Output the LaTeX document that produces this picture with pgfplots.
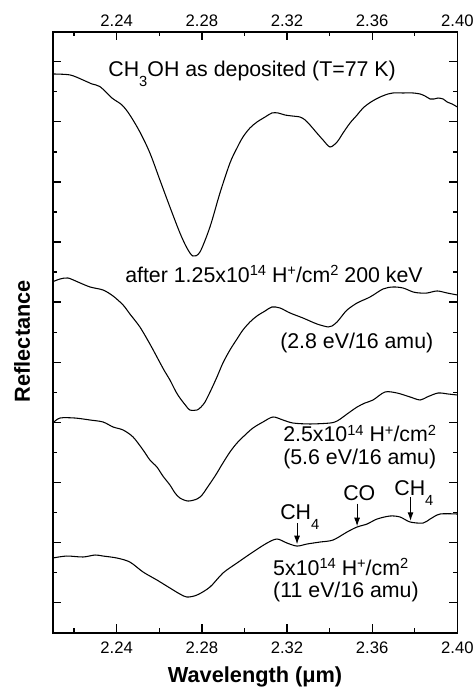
\documentclass[border=0pt]{standalone}
\usepackage{fontspec}
\setmainfont{Liberation Sans}
\usepackage{pgfplots}
\pgfplotsset{compat=1.18}
\usetikzlibrary{arrows.meta}

% Origin-style raised / lowered indices
\newcommand{\sups}[1]{\raisebox{4.9pt}{\fontsize{11}{10}\selectfont #1}}
\newcommand{\subs}[1]{\raisebox{-7.6pt}{\fontsize{11}{10}\selectfont #1}}

\begin{document}
\begin{tikzpicture}
\useasboundingbox (-39.6pt,-40.7pt) rectangle (316.7pt,474.5pt);
\begin{axis}[
  at={(0,0)}, anchor=south west,
  scale only axis, width=303.4pt, height=450.75pt,
  xmin=2.21, xmax=2.40, ymin=0, ymax=10,
  xtick={2.24,2.28,2.32,2.36,2.40},
  xticklabels={2.24,2.28,2.32,2.36,2.40},
  minor xtick={2.22,2.26,2.30,2.34,2.38},
  ytick={0.5,1.5,2.5,3.5,4.5,5.5,6.5,7.5,8.5,9.5},
  minor ytick={1,2,3,4,5,6,7,8,9},
  yticklabels={},
  tick align=inside,
  major tick length=6.4pt, minor tick length=3.4pt,
  tick style={black, line width=1pt},
  axis line style={line width=1.3pt},
  xticklabel style={font=\fontsize{12.5}{14}\selectfont, inner sep=0pt},
  xticklabel shift=7pt,
  clip=false,
]
% CH3OH as deposited
\addplot[black, line width=0.8pt, smooth, tension=0.5] coordinates {
(2.2100,9.296) (2.2181,9.280) (2.2242,9.196) (2.2284,9.130) (2.2322,9.085)
(2.2378,8.896) (2.2425,8.780) (2.2462,8.613) (2.2509,8.331) (2.2556,7.982)
(2.2603,7.532) (2.2650,7.083) (2.2697,6.651) (2.2730,6.401) (2.2758,6.268)
(2.2791,6.334) (2.2838,6.750) (2.2885,7.316) (2.2932,7.815) (2.2965,8.065)
(2.2993,8.248) (2.3026,8.398) (2.3059,8.497) (2.3097,8.580) (2.3129,8.647)
(2.3158,8.647) (2.3191,8.613) (2.3224,8.597) (2.3261,8.580) (2.3285,8.531)
(2.3308,8.447) (2.3336,8.331) (2.3369,8.198) (2.3402,8.082) (2.3435,8.165)
(2.3463,8.314) (2.3496,8.481) (2.3529,8.613) (2.3557,8.730) (2.3594,8.830)
(2.3637,8.913) (2.3674,8.963) (2.3698,8.980) (2.3745,8.980) (2.3792,8.980)
(2.3825,8.963) (2.3848,8.930) (2.3872,8.880) (2.3890,8.880) (2.3909,8.896)
(2.3933,8.880) (2.3952,8.830) (2.3975,8.797) (2.4000,8.746)
};
% 1.25e14
\addplot[black, line width=0.8pt, smooth, tension=0.5] coordinates {
(2.2100,5.840) (2.2134,5.885) (2.2171,5.902) (2.2218,5.835) (2.2275,5.752)
(2.2336,5.702) (2.2383,5.602) (2.2430,5.453) (2.2462,5.303) (2.2509,5.087)
(2.2556,4.804) (2.2589,4.588) (2.2622,4.371) (2.2650,4.205) (2.2679,4.005)
(2.2697,3.905) (2.2726,3.772) (2.2744,3.705) (2.2777,3.705) (2.2796,3.755)
(2.2815,3.839) (2.2843,4.038) (2.2871,4.255) (2.2899,4.488) (2.2932,4.704)
(2.2965,4.887) (2.2993,5.037) (2.3026,5.170) (2.3059,5.270) (2.3097,5.353)
(2.3129,5.419) (2.3167,5.403) (2.3214,5.320) (2.3275,5.236) (2.3341,5.136)
(2.3393,5.087) (2.3411,5.103) (2.3435,5.170) (2.3458,5.270) (2.3482,5.370)
(2.3529,5.486) (2.3590,5.586) (2.3651,5.719) (2.3698,5.752) (2.3745,5.735)
(2.3792,5.669) (2.3825,5.652) (2.3858,5.652) (2.3905,5.686) (2.3952,5.652)
(2.4000,5.619)
};
% 2.5e14
\addplot[black, line width=0.8pt, smooth, tension=0.5] coordinates {
(2.2100,3.489) (2.2134,3.572) (2.2204,3.572) (2.2275,3.539) (2.2336,3.506)
(2.2383,3.423) (2.2430,3.373) (2.2477,3.256) (2.2524,3.040) (2.2556,2.874)
(2.2589,2.757) (2.2617,2.607) (2.2650,2.458) (2.2674,2.325) (2.2697,2.241)
(2.2735,2.191) (2.2777,2.225) (2.2801,2.291) (2.2824,2.408) (2.2862,2.607)
(2.2899,2.824) (2.2932,3.007) (2.2965,3.156) (2.3003,3.290) (2.3040,3.406)
(2.3087,3.506) (2.3134,3.589) (2.3181,3.539) (2.3228,3.489) (2.3308,3.473)
(2.3402,3.489) (2.3435,3.522) (2.3463,3.589) (2.3482,3.639) (2.3529,3.755)
(2.3566,3.822) (2.3604,3.872) (2.3660,4.005) (2.3717,3.988) (2.3778,3.922)
(2.3825,3.872) (2.3858,3.922) (2.3909,3.988) (2.3956,3.972) (2.4000,3.955)
};
% 5e14
\addplot[black, line width=0.8pt, smooth, tension=0.5] coordinates {
(2.2100,1.243) (2.2165,1.276) (2.2242,1.260) (2.2298,1.293) (2.2336,1.276)
(2.2401,1.243) (2.2462,1.176) (2.2524,1.010) (2.2589,0.877) (2.2650,0.744)
(2.2697,0.644) (2.2730,0.594) (2.2777,0.627) (2.2838,0.760) (2.2899,0.993)
(2.2965,1.160) (2.3040,1.343) (2.3106,1.492) (2.3153,1.559) (2.3200,1.492)
(2.3247,1.442) (2.3294,1.476) (2.3355,1.509) (2.3416,1.542) (2.3482,1.676)
(2.3529,1.759) (2.3576,1.809) (2.3623,1.892) (2.3684,1.942) (2.3731,1.925)
(2.3778,1.842) (2.3839,1.825) (2.3872,1.892) (2.3919,1.975) (2.4000,1.975)
};

\begin{scope}[every node/.style={inner sep=0pt, anchor=base west, font=\fontsize{16}{19}\selectfont}]
\node at (axis cs:2.2360,9.251) {CH\subs{3}OH as deposited (T=77 K)};
\node at (axis cs:2.2439,5.835) {after 1.25x10\sups{14} H\sups{+}/cm\sups{2} 200 keV};
\node at (axis cs:2.3167,4.737) {(2.8 eV/16 amu)};
\node at (axis cs:2.3181,3.175) {2.5x10\sups{14} H\sups{+}/cm\sups{2}};
\node at (axis cs:2.3181,2.795) {(5.6 eV/16 amu)};
\node at (axis cs:2.3134,0.960) {5x10\sups{14} H\sups{+}/cm\sups{2}};
\node at (axis cs:2.3134,0.585) {(11 eV/16 amu)};
\node at (axis cs:2.3167,1.880) {CH\subs{4}};
\node at (axis cs:2.3463,2.195) {CO};
\node at (axis cs:2.3703,2.278) {CH\subs{4}};
\end{scope}

\begin{scope}[-{Latex[length=6.5pt,width=4.5pt]}, line width=0.8pt]
\draw (axis cs:2.3247,1.82) -- (axis cs:2.3247,1.47);
\draw (axis cs:2.3529,2.15) -- (axis cs:2.3529,1.77);
\draw (axis cs:2.3780,2.26) -- (axis cs:2.3780,1.86);
\end{scope}

\node[rotate=90, anchor=base, inner sep=0pt, font=\bfseries\fontsize{16.3}{20}\selectfont]
  at (rel axis cs:-0.0564,0.485) {Reflectance};
\node[anchor=base, inner sep=0pt, font=\bfseries\fontsize{16.3}{20}\selectfont]
  at (rel axis cs:0.5,-0.082) {Wavelength (μm)};
\end{axis}

% upper tick labels
\begin{axis}[
  at={(0,0)}, anchor=south west,
  scale only axis, width=303.4pt, height=450.75pt,
  xmin=2.21, xmax=2.40, ymin=0, ymax=10,
  axis x line*=top, hide y axis,
  axis line style={draw=none},
  xtick={2.24,2.28,2.32,2.36,2.40},
  xticklabels={2.24,2.28,2.32,2.36,2.40},
  major tick length=0pt,
  xticklabel style={font=\fontsize{12.5}{14}\selectfont, inner sep=0pt},
  xticklabel shift=3.75pt,
]
\end{axis}
\end{tikzpicture}
\end{document}
